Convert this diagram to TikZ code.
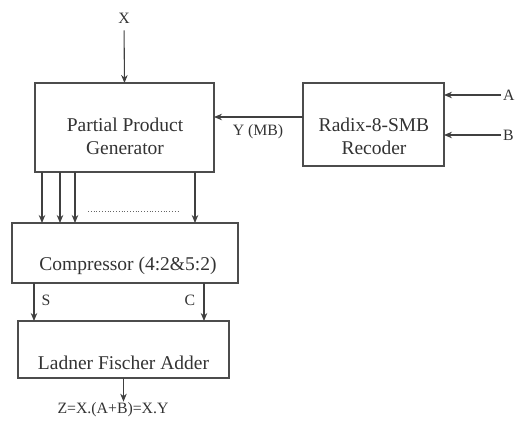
\documentclass[tikz,border=0pt]{standalone}
\usepackage{fontspec}
\setmainfont{Liberation Serif}
\usetikzlibrary{arrows.meta}

\begin{document}
\begin{tikzpicture}[x=1pt,y=-1pt,
	blk/.style={draw=black!70,line width=1.1pt,inner sep=0,outer sep=0},
	btxt/.style={align=center,font=\fontsize{19.5}{23}\selectfont,text=black!80},
	lbl/.style={font=\fontsize{15.8}{18}\selectfont,text=black!80,inner sep=1pt},
	arr/.style={draw=black!75,line width=1.1pt,-{Stealth[length=8pt,width=6.5pt]}}]
	\useasboundingbox (0,0) rectangle (515,421);
	% boxes
	\node[blk,minimum width=179,minimum height=89] (ppg) at (124.5,127.5) {};
	\node[btxt] at (125,136) {Partial Product\\Generator};
	\node[blk,minimum width=141,minimum height=83] (rad) at (373.5,124.5) {};
	\node[btxt] at (374,136) {Radix-8-SMB\\Recoder};
	\node[blk,minimum width=226,minimum height=60] (comp) at (125,253) {};
	\node[btxt] at (128,266) {Compressor (4:2\&5:2)};
	\node[blk,minimum width=211,minimum height=57] (lad) at (123.5,349.5) {};
	\node[btxt] at (123.5,363) {Ladner Fischer Adder};
	% labels
	\node[lbl] (xin) at (124,18) {X};
	\node[lbl,anchor=west,inner sep=0] (ain) at (503,95) {A};
	\node[lbl,anchor=west,inner sep=0] (bin) at (503,135) {B};
	\node[lbl] (ymb) at (258,132) {Y (MB)};
	\node[lbl] (s) at (46,300) {S};
	\node[lbl] (c) at (190,300) {C};
	\node[lbl] (z) at (113,410) {Z=X.(A+B)=X.Y};
	% connectors
	\draw[arr,shorten <=6pt] (xin.south) -- (ppg.north);
	\draw[arr,shorten <=2pt] (ain.west) -- (rad.east |- ain.west);
	\draw[arr,shorten <=2pt] (bin.west) -- (rad.east |- bin.west);
	\draw[arr] (rad.west |- 0,117) -- (ppg.east |- 0,117);
	\foreach \x in {42,60,75,195}
		\draw[arr] (ppg.south -| \x,0) -- (comp.north -| \x,0);
	\draw[black!60,line width=0.8pt,dotted] (88,211) -- (180,211);
	\draw[arr] (comp.south -| 34,0) -- (lad.north -| 34,0);
	\draw[arr] (comp.south -| 204,0) -- (lad.north -| 204,0);
	\draw[arr] (lad.south) -- (lad.south |- z.north);
\end{tikzpicture}
\end{document}
